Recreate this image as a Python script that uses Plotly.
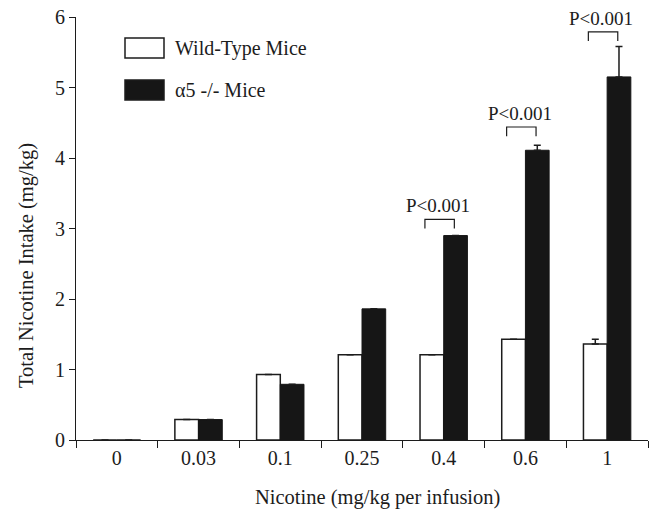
import plotly.graph_objects as go

# ---- data ----
doses = ["0", "0.03", "0.1", "0.25", "0.4", "0.6", "1"]
wild_type = [0.0, 0.29, 0.93, 1.21, 1.21, 1.43, 1.36]
wild_type_err = [0, 0, 0, 0, 0, 0, 0.07]
alpha5_ko = [0.0, 0.29, 0.79, 1.86, 2.90, 4.11, 5.15]
alpha5_ko_err = [0, 0, 0, 0, 0, 0.07, 0.43]
sig_doses = ["0.4", "0.6", "1"]
sig_labels = ["P<0.001", "P<0.001", "P<0.001"]
sig_bracket_top = [3.13, 4.44, 5.79]
y_ticks = [0, 1, 2, 3, 4, 5, 6]

FONT = "Liberation Serif, serif"
INK = "#1c1c1c"
W, H = 651, 509
ML, MR, MT, MB = 76, 3, 17, 69

fig = go.Figure()
fig.add_trace(go.Bar(
    x=doses, y=wild_type, name="Wild-Type Mice",
    marker=dict(color="white", line=dict(color=INK, width=1.5)),
    error_y=dict(type="data", array=wild_type_err, arrayminus=[0]*len(doses),
                 symmetric=False, color=INK, thickness=1.5, width=3.5),
    showlegend=False,
))
fig.add_trace(go.Bar(
    x=doses, y=alpha5_ko, name="α5 -/- Mice",
    marker=dict(color="#161616", line=dict(color="#161616", width=1)),
    error_y=dict(type="data", array=alpha5_ko_err, arrayminus=[0]*len(doses),
                 symmetric=False, color=INK, thickness=1.5, width=3.5),
    showlegend=False,
))

# significance brackets
shapes = []
annotations = []
for d, lab, top in zip(sig_doses, sig_labels, sig_bracket_top):
    i = doses.index(d)
    x0, x1 = i - 0.23, i + 0.13
    leg = 0.13
    shapes.append(dict(type="path", xref="x", yref="y",
                       path=f"M {x0},{top-leg} L {x0},{top} L {x1},{top} L {x1},{top-leg}",
                       line=dict(color=INK, width=1.2)))
    annotations.append(dict(x=i - 0.07, y=top, xref="x", yref="y", text=lab,
                            showarrow=False, yanchor="bottom", yshift=1,
                            font=dict(family=FONT, size=19, color=INK)))

# custom legend and axis titles (paper coordinates from pixel positions)
pw = W - ML - MR
ph = H - MT - MB
def px(xp):
    return (xp - ML) / pw
def py(yp):
    return (H - MB - yp) / ph

legend_items = [("Wild-Type Mice", "white", 38, 58), ("α5 -/- Mice", "#161616", 80, 100)]
for text, col, ytop, ybot in legend_items:
    shapes.append(dict(type="rect", xref="paper", yref="paper",
                       x0=px(125), x1=px(164), y0=py(ybot), y1=py(ytop),
                       fillcolor=col, line=dict(color=INK, width=1.5)))
    annotations.append(dict(x=px(173), y=py((ytop + ybot) / 2), xref="paper", yref="paper",
                            text=text, showarrow=False, xanchor="left", yanchor="middle",
                            font=dict(family=FONT, size=20, color=INK)))

annotations.append(dict(x=px(377), y=py(497), xref="paper", yref="paper",
                        text="Nicotine (mg/kg per infusion)", showarrow=False,
                        xanchor="center", yanchor="middle",
                        font=dict(family=FONT, size=20.5, color=INK)))
annotations.append(dict(x=px(26), y=py(266), xref="paper", yref="paper",
                        text="Total Nicotine Intake (mg/kg)", showarrow=False, textangle=-90,
                        xanchor="center", yanchor="middle",
                        font=dict(family=FONT, size=20.5, color=INK)))

fig.update_layout(
    width=W, height=H,
    margin=dict(l=ML, r=MR, t=MT, b=MB),
    paper_bgcolor="white", plot_bgcolor="white",
    barmode="group", bargap=0.42, bargroupgap=0,
    font=dict(family=FONT, size=20, color=INK),
    shapes=shapes, annotations=annotations,
    xaxis=dict(
        type="category", showline=True, linecolor=INK, linewidth=1.2,
        ticks="outside", tickson="boundaries", ticklen=7, tickcolor=INK, tickwidth=1.2,
        showgrid=False, zeroline=False,
        tickfont=dict(family=FONT, size=20, color=INK),
    ),
    yaxis=dict(
        range=[0, 6], tickvals=y_ticks, showline=True, linecolor=INK, linewidth=1.2,
        ticks="outside", ticklen=6, tickcolor=INK, tickwidth=1.2,
        showgrid=False, zeroline=False,
        tickfont=dict(family=FONT, size=20, color=INK),
    ),
)

fig.write_html("out.html", config={"displayModeBar": False},
               post_script="document.body.style.margin='0px';document.body.style.overflow='hidden';")
